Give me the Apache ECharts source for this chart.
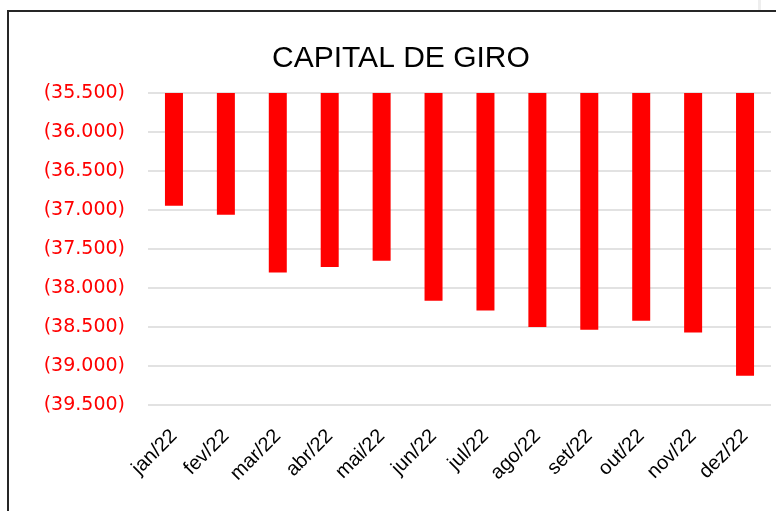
<!DOCTYPE html>
<html>
<head>
<meta charset="utf-8">
<script src="https://cdn.jsdelivr.net/npm/echarts@6/dist/echarts.min.js"></script>
<style>
html, body { margin: 0; padding: 0; background: #fff; }
#wrap { position: relative; width: 776px; height: 511px; overflow: hidden; }
#frame {
  position: absolute; left: 7px; top: 10px; width: 900px; height: 600px;
  border: 2px solid #262626; box-sizing: border-box;
}
#edge { position: absolute; left: 758px; top: 0; width: 3px; height: 10px; background: #eeeeee; }
#chart { position: absolute; left: 0; top: 0; width: 776px; height: 511px; }
</style>
</head>
<body>
<div id="wrap">
  <div id="edge"></div>
  <div id="frame"></div>
  <div id="chart"></div>
</div>
<script>
var meses = ['jan/22', 'fev/22', 'mar/22', 'abr/22', 'mai/22', 'jun/22',
  'jul/22', 'ago/22', 'set/22', 'out/22', 'nov/22', 'dez/22'];
var capitalGiro = [-36945, -37060, -37800, -37730, -37650, -38165,
  -38290, -38500, -38535, -38420, -38570, -39125];
var eixoMin = -39500;
var eixoMax = -35500;
var eixoPasso = 500;

// numero negativo no formato contabil: (35.500)
function formata(v) {
  var s = Math.abs(v).toFixed(0).replace(/\B(?=(\d{3})+(?!\d))/g, '.');
  return v < 0 ? '(' + s + ')' : s;
}

var chart = echarts.init(document.getElementById('chart'));
chart.setOption({
  animation: false,
  title: {
    text: 'CAPITAL DE GIRO',
    left: 267,
    top: 39,
    textStyle: { fontFamily: 'Liberation Sans', fontSize: 30, fontWeight: 'normal', color: '#000' }
  },
  grid: { left: 148, right: 5, top: 93, bottom: 106, containLabel: false },
  xAxis: {
    type: 'category',
    data: meses,
    axisLine: { show: false },
    axisTick: { show: false },
    axisLabel: {
      rotate: 45,
      margin: 28,
      interval: 0,
      fontFamily: 'Liberation Sans',
      fontSize: 20,
      color: '#000'
    }
  },
  yAxis: {
    type: 'value',
    min: eixoMin,
    max: eixoMax,
    interval: eixoPasso,
    axisLine: { show: false },
    axisTick: { show: false },
    splitLine: { lineStyle: { color: '#d9d9d9', width: 1.5 } },
    axisLabel: {
      margin: 23,
      fontFamily: 'DejaVu Sans',
      fontSize: 19,
      color: '#ff0000',
      formatter: formata
    }
  },
  series: [
    {
      name: 'Capital de giro',
      type: 'bar',
      data: capitalGiro,
      barWidth: 18,
      clip: true,
      itemStyle: { color: '#ff0000' }
    }
  ]
});
</script>
</body>
</html>
